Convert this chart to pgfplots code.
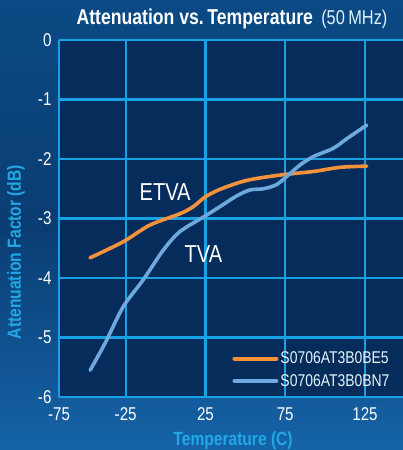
\documentclass[border=0pt]{standalone}
\usepackage{pgfplots}
\pgfplotsset{compat=1.18}
\usepackage{fontspec}
\setmainfont{Liberation Sans}[FakeStretch=0.82]
\definecolor{bgA}{HTML}{0B4A85}
\definecolor{bgB}{HTML}{0A3D72}
\definecolor{bgC}{HTML}{1563A8}
\definecolor{plotbg}{HTML}{062C5C}
\definecolor{gridc}{HTML}{17A2E4}
\definecolor{etva}{HTML}{F4923C}
\definecolor{tva}{HTML}{6EA9DD}
\definecolor{lbl}{HTML}{22A8E6}
\begin{document}
\begin{tikzpicture}
\useasboundingbox (0,0) rectangle (403pt,450pt);
\fill[top color=bgA, bottom color=bgC, middle color=bgB] (0,0) rectangle (403pt,450pt);
\begin{axis}[
  at={(59pt,53pt)}, anchor=south west,
  scale only axis, width=344pt, height=357pt,
  xmin=-66.8, xmax=148.8, ymin=-6, ymax=0,
  axis background/.style={fill=plotbg},
  axis x line*=bottom, axis y line*=left,
  axis line style={gridc, line width=2.8pt, -},
  xtick={-66.8,-25,25,75,125}, xticklabels={-75,-25,25,75,125},
  ytick={-6,-5,-4,-3,-2,-1,0},
  major tick length=0pt,
  grid=major, major grid style={gridc, line width=2.1pt},
  tick label style={white, font=\fontsize{18.5}{20}\selectfont},
  yticklabel style={xshift=-4pt},
  xticklabel style={yshift=-7pt},
  /pgf/number format/assume math mode=true,
  xlabel={\textbf{Temperature (C)}},
  ylabel={\textbf{Attenuation Factor (dB)}},
  label style={lbl, font=\fontsize{19}{21}\selectfont},
  xlabel style={at={(axis description cs:0.506,-0.123)}, anchor=center},
  ylabel style={at={(axis description cs:-0.125,0.406)}, anchor=center, rotate=0},
  legend style={at={(axis description cs:0.495,0.138)}, anchor=north west, draw=none, fill=none,
    font=\fontsize{17}{19}\selectfont, text=white!88!lbl, row sep=5pt,
    /tikz/every even column/.append style={column sep=4pt}},
  legend cell align=left,
  legend image code/.code={\draw[#1, line width=4pt, line cap=round] (0pt,0pt) -- (42pt,0pt);},
  clip=true,
]
\addplot[etva, line width=3.6pt, smooth, line cap=round] coordinates {
(-47.3,-3.66) (-26.5,-3.39) (-9.8,-3.11) (9.0,-2.92) (17.4,-2.80) (24.7,-2.64) (34.1,-2.51) (50.8,-2.36) (71.7,-2.27) (92.6,-2.21) (109.3,-2.14) (126.1,-2.12)
};
\addlegendentry{S0706AT3B0BE5}
\addplot[tva, line width=3.6pt, smooth, line cap=round] coordinates {
(-47.3,-5.55) (-38.0,-5.10) (-26.5,-4.48) (-14.0,-4.03) (-1.4,-3.53) (9.0,-3.22) (24.7,-2.96) (34.1,-2.80) (44.6,-2.62) (52.9,-2.52) (61.3,-2.50) (69.6,-2.43) (76.9,-2.27) (84.3,-2.10) (92.6,-1.96) (105.1,-1.82) (113.5,-1.66) (126.1,-1.43)
};
\addlegendentry{S0706AT3B0BN7}
\node[white, font=\fontsize{24.5}{26}\selectfont] at (axis cs:-0.3,-2.55) {ETVA};
\node[white, font=\fontsize{24.5}{26}\selectfont] at (axis cs:23.7,-3.6) {TVA};
\end{axis}
\node[anchor=base west, white, font=\fontsize{21.5}{23}\selectfont\bfseries] at (73pt,425pt) {Attenuation vs.\,Temperature};
\node[anchor=base east, white!85!lbl, font=\fontsize{20}{22}\selectfont] at (391pt,425pt) {(50\,MHz)};
\end{tikzpicture}
\end{document}
